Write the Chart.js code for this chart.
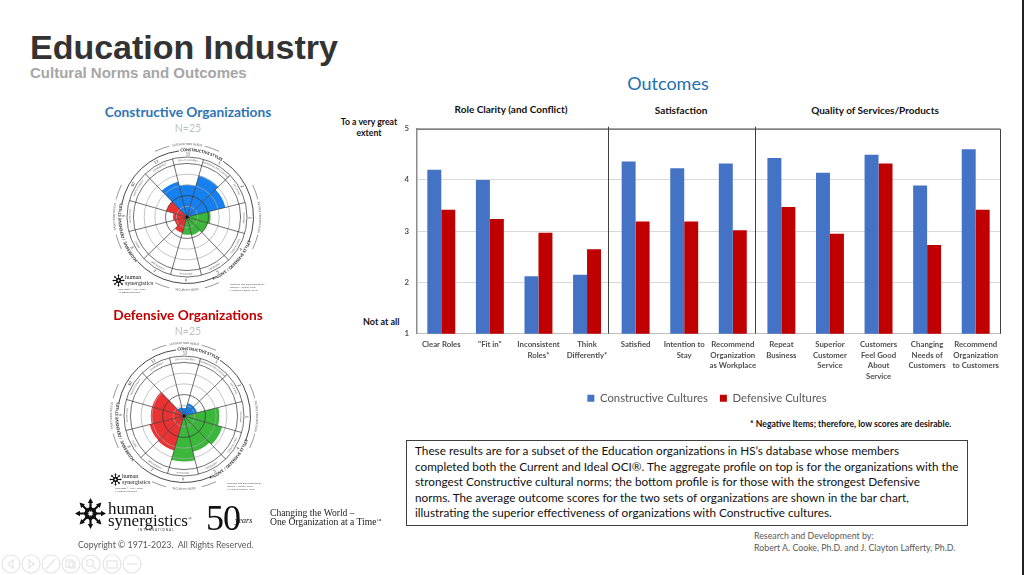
<!DOCTYPE html>
<html lang="en">
<head>
<meta charset="UTF-8">
<title>Education Industry</title>
<script src="https://cdn.jsdelivr.net/npm/chart.js"></script>
<style>
  html, body { margin: 0; padding: 0; background: #fff; }
  #page { position: relative; width: 1024px; height: 575px; overflow: hidden; font-family: Lato, sans-serif; }
  .t { position: absolute; white-space: nowrap; line-height: 1; }
  .c { transform: translateX(-50%); text-align: center; }
  .serif { font-family: "Liberation Serif", serif; }
  canvas { position: absolute; }
  svg { position: absolute; }
</style>
</head>
<body>
<div id="page">
  <div class="t" style="left:30px;top:28px;font:bold 34px 'Liberation Sans';color:#333">Education Industry</div>
  <div class="t" style="left:30px;top:64px;font:bold 15px 'Liberation Sans';color:#a6a6a6">Cultural Norms and Outcomes</div>

  <div class="t c" style="left:668px;top:74px;font-size:18px;color:#1f6fb0">Outcomes</div>
  <div class="t c" style="left:511px;top:104px;font-size:10px;font-weight:700;color:#111">Role Clarity (and Conflict)</div>
  <div class="t c" style="left:681px;top:105px;font-size:10px;font-weight:700;color:#111">Satisfaction</div>
  <div class="t c" style="left:875px;top:105px;font-size:10px;font-weight:700;color:#111">Quality of Services/Products</div>
  <div class="t c" style="left:369px;top:117px;font-size:8.7px;font-weight:700;color:#111;line-height:10.5px">To a very great<br>extent</div>
  <div class="t" style="left:363px;top:317px;font-size:9px;font-weight:700;color:#111">Not at all</div>

  <canvas id="barChart" style="left:400px;top:116px" width="614" height="298"></canvas>

  <div class="t" style="left:750px;top:420px;font-size:8.65px;font-weight:700;color:#111">* Negative Items; therefore, low scores are desirable.</div>

  <div class="t" style="left:406px;top:440px;width:552px;height:79px;border:1px solid #404040;padding:2px 0 3px 8px;font-size:11.75px;line-height:15.5px;color:#111">These results are for a subset of the Education organizations in HS’s database whose members<br>completed both the Current and Ideal OCI®. The aggregate profile on top is for the organizations with the<br>strongest Constructive cultural norms; the bottom profile is for those with the strongest Defensive<br>norms. The average outcome scores for the two sets of organizations are shown in the bar chart,<br>illustrating the superior effectiveness of organizations with Constructive cultures.</div>

  <div class="t" style="left:754px;top:530px;font-size:8.8px;color:#595959;line-height:11.5px">Research and Development by:<br>Robert A. Cooke, Ph.D. and J. Clayton Lafferty, Ph.D.</div>

  <div class="t c" style="left:188px;top:105px;font-size:13.7px;font-weight:700;color:#2e74b5">Constructive Organizations</div>
  <div class="t c" style="left:188px;top:123px;font-size:10.5px;color:#bfbfbf">N=25</div>
  <canvas id="wheelTop" style="left:92px;top:122px" width="190" height="190"></canvas>

  <div class="t c" style="left:188px;top:308px;font-size:13.7px;font-weight:700;color:#c00000">Defensive Organizations</div>
  <div class="t c" style="left:188px;top:326px;font-size:10.5px;color:#bfbfbf">N=25</div>
  <canvas id="wheelBottom" style="left:89px;top:321px" width="190" height="190"></canvas>

  <!-- small logos inside the wheels -->
  <svg style="left:112px;top:274px" width="13" height="13" viewBox="-14 -14 28 28"><use href="#star"/></svg>
  <div class="t serif" style="left:125px;top:275px;font-size:6px;line-height:5.5px;color:#222">human<br>synergistics</div>
  <div class="t" style="left:118px;top:288px;font-size:2.6px;line-height:3px;color:#555">Copyright © 1971-2023<br>All Rights Reserved</div>
  <div class="t" style="left:230px;top:283px;font-size:2.6px;line-height:3px;color:#555">Research and Development by<br>Robert A. Cooke, Ph.D.<br>J. Clayton Lafferty, Ph.D.</div>

  <svg style="left:109px;top:473px" width="13" height="13" viewBox="-14 -14 28 28"><use href="#star"/></svg>
  <div class="t serif" style="left:122px;top:474px;font-size:6px;line-height:5.5px;color:#222">human<br>synergistics</div>
  <div class="t" style="left:115px;top:487px;font-size:2.6px;line-height:3px;color:#555">Copyright © 1971-2023<br>All Rights Reserved</div>
  <div class="t" style="left:227px;top:482px;font-size:2.6px;line-height:3px;color:#555">Research and Development by<br>Robert A. Cooke, Ph.D.<br>J. Clayton Lafferty, Ph.D.</div>

  <!-- footer logo -->
  <svg style="left:75px;top:498px" width="31" height="31" viewBox="-14 -14 28 28">
    <defs>
      <g id="star" fill="#111">
        <g id="arm"><polygon points="0,-14 2.4,-9.5 1,-9.5 1,-6 2.6,-4 0,-1.5 -2.6,-4 -1,-6 -1,-9.5 -2.4,-9.5"/></g>
        <use href="#arm" transform="rotate(45)"/><use href="#arm" transform="rotate(90)"/><use href="#arm" transform="rotate(135)"/>
        <use href="#arm" transform="rotate(180)"/><use href="#arm" transform="rotate(225)"/><use href="#arm" transform="rotate(270)"/><use href="#arm" transform="rotate(315)"/>
      </g>
    </defs>
    <use href="#star"/>
  </svg>
  <div class="t serif" style="left:108px;top:503px;font-size:17px;line-height:12px;color:#111">human<br>synergistics<span style="font-size:5px;line-height:0;vertical-align:6px">®</span></div>
  <div class="t" style="left:138px;top:529px;font-size:3.2px;letter-spacing:.9px;color:#333">INTERNATIONAL</div>
  <div class="t serif" style="left:206px;top:500px;font-size:36px;color:#111;letter-spacing:-1px">50</div>
  <div class="t serif" style="left:235px;top:517px;font-size:8px;font-style:italic;color:#111">years</div>
  <div class="t serif" style="left:270px;top:508px;font-size:9.6px;line-height:9.4px;color:#222">Changing the World –<br>One Organization at a Time<span style="font-size:5px;line-height:0;vertical-align:3px">™</span></div>
  <div class="t" style="left:78px;top:541px;font-size:8.75px;color:#595959">Copyright © 1971-2023.&nbsp; All Rights Reserved.</div>

  <!-- slide show controls -->
  <svg style="left:0;top:553px" width="145" height="22" fill="none" stroke="#e4e4e4" stroke-width="1.2">
    <circle cx="11" cy="11" r="9"/><path d="M13 7l-5 4 5 4z"/>
    <circle cx="31" cy="11" r="9"/><path d="M29 7l5 4-5 4z"/>
    <circle cx="51" cy="11" r="9"/><path d="M46 16l9-10"/>
    <circle cx="71" cy="11" r="9"/><rect x="66" y="7" width="7" height="7"/><rect x="69" y="9" width="6" height="6"/>
    <circle cx="91" cy="11" r="9"/><circle cx="90" cy="10" r="3.5"/><path d="M93 13l3 3"/>
    <circle cx="112" cy="11" r="9"/><rect x="107" y="8" width="10" height="7"/>
    <circle cx="132" cy="11" r="9"/><path d="M127 11h10"/>
  </svg>
  <div style="position:absolute;left:1022px;top:0;width:2px;height:575px;background:#222"></div>
</div>

<script>
// bar chart data
const outcomeLabels = [
  'Clear Roles', '"Fit in"', ['Inconsistent', 'Roles*'], ['Think', 'Differently*'],
  'Satisfied', ['Intention to', 'Stay'], ['Recommend', 'Organization', 'as Workplace'],
  ['Repeat', 'Business'], ['Superior', 'Customer', 'Service'], ['Customers', 'Feel Good', 'About', 'Service'],
  ['Changing', 'Needs of', 'Customers'], ['Recommend', 'Organization', 'to Customers']
];
const constructiveScores = [4.20, 4.00, 2.12, 2.15, 4.36, 4.23, 4.32, 4.43, 4.14, 4.49, 3.89, 4.60];
const defensiveScores = [3.42, 3.24, 2.97, 2.65, 3.19, 3.19, 3.02, 3.47, 2.95, 4.32, 2.73, 3.42];
const groupDividers = [3.44, 6.45];

// wheel data, clockwise from style 11
const styleNumbers = ['11', '12', '1', '2', '3', '4', '5', '6', '7', '8', '9', '10'];
const styleNames = ['ACHIEVEMENT', 'SELF-ACTUALIZING', 'HUMANISTIC-ENCOURAGING', 'AFFILIATIVE', 'APPROVAL', 'CONVENTIONAL',
  'DEPENDENT', 'AVOIDANCE', 'OPPOSITIONAL', 'POWER', 'COMPETITIVE', 'PERFECTIONISTIC'];
const constructiveWheel = [68, 60, 81, 74, 44, 40, 35, 33, 31, 24, 26, 40];
const defensiveWheel = [17, 15, 25, 25, 66, 74, 69, 85, 67, 66, 62, 62];
const wheelColors = ['#1580ee', '#1580ee', '#1580ee', '#1580ee', '#3bb83b', '#3bb83b', '#3bb83b', '#3bb83b', '#ea3232', '#ea3232', '#ea3232', '#ea3232'];

Chart.defaults.font.family = 'Lato, sans-serif';

const frameAndDividers = {
  id: 'frameAndDividers',
  afterDraw(chart) {
    const { ctx, chartArea: a, scales: { x } } = chart;
    ctx.save();
    ctx.strokeStyle = '#404040';
    ctx.lineWidth = 1;
    ctx.beginPath();
    ctx.moveTo(a.left, a.top + 0.5);
    ctx.lineTo(a.right + 0.5, a.top + 0.5);
    ctx.lineTo(a.right + 0.5, a.bottom);
    groupDividers.forEach(d => {
      const px = Math.round(x.getPixelForValue(d)) + 0.5;
      ctx.moveTo(px, a.top - 2);
      ctx.lineTo(px, a.bottom);
    });
    ctx.stroke();
    ctx.restore();
  }
};

new Chart(document.getElementById('barChart'), {
  type: 'bar',
  data: {
    labels: outcomeLabels,
    datasets: [
      { label: 'Constructive Cultures', data: constructiveScores, backgroundColor: '#4472c4' },
      { label: 'Defensive Cultures', data: defensiveScores, backgroundColor: '#c00000' }
    ]
  },
  options: {
    responsive: false,
    animation: false,
    layout: { padding: { top: 4, right: 0, bottom: 0, left: 0 } },
    datasets: { bar: { categoryPercentage: 0.575, barPercentage: 1 } },
    plugins: {
      tooltip: { enabled: false },
      legend: {
        position: 'bottom',
        labels: { boxWidth: 7, boxHeight: 7, color: '#595959', font: { size: 11.3 }, padding: 12 }
      }
    },
    scales: {
      x: {
        grid: { display: false },
        border: { color: '#bfbfbf' },
        ticks: { color: '#505050', font: { size: 7.8, weight: 'bold', lineHeight: 1.33 }, maxRotation: 0, autoSkip: false, padding: -2 },
        afterFit(s) { s.height = 47; }
      },
      y: {
        min: 1, max: 5,
        grid: { color: '#d9d9d9', drawTicks: false },
        border: { color: '#8c8c8c', width: 1.5 },
        ticks: { stepSize: 1, color: '#505050', font: { size: 7.8, weight: 'bold' }, padding: 8 },
        afterFit(s) { s.width = 17; }
      },
      // empty axis that only keeps the legend centred on the plot
      spacer: {
        position: 'right',
        grid: { display: false },
        border: { display: false },
        ticks: { display: false },
        afterFit(s) { s.width = 14; }
      }
    }
  },
  plugins: [frameAndDividers]
});

// curved text centred on an angle, clockwise from the top
function arcText(ctx, str, radius, midDeg, font, color, flip) {
  ctx.save();
  ctx.font = font;
  ctx.fillStyle = color;
  ctx.textAlign = 'center';
  ctx.textBaseline = 'middle';
  const total = ctx.measureText(str).width / radius;
  const dir = flip ? -1 : 1;
  let a = midDeg * Math.PI / 180 - dir * total / 2;
  for (const ch of str) {
    const w = ctx.measureText(ch).width / radius;
    a += dir * w / 2;
    ctx.save();
    ctx.rotate(a);
    ctx.translate(0, -radius);
    if (flip) ctx.rotate(Math.PI);
    ctx.fillText(ch, 0, 0);
    ctx.restore();
    a += dir * w / 2;
  }
  ctx.restore();
}

function arcLine(ctx, r, fromDeg, toDeg, width, color) {
  ctx.beginPath();
  ctx.lineWidth = width;
  ctx.strokeStyle = color;
  ctx.arc(0, 0, r, (fromDeg - 90) * Math.PI / 180, (toDeg - 90) * Math.PI / 180);
  ctx.stroke();
}

const wheelFrame = {
  id: 'wheelFrame',
  afterDraw(chart) {
    const { ctx, scales: { r } } = chart;
    const R = r.drawingArea;
    ctx.save();
    ctx.translate(r.xCenter, r.yCenter);
    // hub
    ctx.fillStyle = '#111';
    ctx.beginPath();
    ctx.arc(0, 0, 1.5, 0, Math.PI * 2);
    ctx.fill();
    // style names and numbers
    styleNames.forEach((name, i) => {
      const mid = -29 + i * 30;
      const bottom = mid > 90 && mid < 270;
      arcText(ctx, name, R - 3, mid, '2.2px Lato', '#555', bottom);
      arcText(ctx, styleNumbers[i], R + 3, mid, '4px Lato', '#333', bottom);
    });
    // style group rings, broken around the group names
    arcLine(ctx, R + 6.5, 33, 112, 0.9, '#333');
    arcLine(ctx, R + 6.5, 156, 228, 0.9, '#333');
    arcLine(ctx, R + 6.5, 281, 353, 0.9, '#333');
    arcText(ctx, 'CONSTRUCTIVE STYLES', R + 7, 13, 'bold 3.9px Lato', '#111', false);
    arcText(ctx, 'PASSIVE / DEFENSIVE STYLES', R + 7, 134, 'bold 3.9px Lato', '#111', true);
    arcText(ctx, 'AGGRESSIVE / DEFENSIVE STYLES', R + 7, 255, 'bold 3.9px Lato', '#111', false);
    // outer needs and orientation arcs
    [0, 90, 180, 270].forEach(mid => {
      arcLine(ctx, R + 13, mid - 26, mid - 14, 0.6, '#555');
      arcLine(ctx, R + 13, mid + 14, mid + 26, 0.6, '#555');
    });
    arcText(ctx, 'SATISFACTION NEEDS', R + 13, 0, '2.9px Lato', '#555', false);
    arcText(ctx, 'PEOPLE ORIENTATION', R + 13, 90, '2.9px Lato', '#555', false);
    arcText(ctx, 'SECURITY NEEDS', R + 13, 180, '2.9px Lato', '#555', true);
    arcText(ctx, 'TASK ORIENTATION', R + 13, 270, '2.9px Lato', '#555', false);
    ctx.restore();
  }
};

function makeWheel(id, values) {
  new Chart(document.getElementById(id), {
    type: 'polarArea',
    data: {
      labels: styleNumbers,
      datasets: [{ data: values, backgroundColor: wheelColors, borderWidth: 0 }]
    },
    options: {
      responsive: false,
      animation: false,
      layout: { padding: 35 },
      plugins: { legend: { display: false }, tooltip: { enabled: false } },
      scales: {
        r: {
          min: 0, max: 112,
          startAngle: -44,
          ticks: { display: false, stepSize: 20 },
          angleLines: { display: true, color: '#333', lineWidth: 0.7 },
          grid: {
            z: 1,
            lineWidth: 0.7,
            color: c => (c.tick.value === 100 || c.tick.value === 112 || c.tick.value === 40) ? '#333' : '#aaaaaa'
          }
        }
      }
    },
    plugins: [wheelFrame]
  });
}

makeWheel('wheelTop', constructiveWheel);
makeWheel('wheelBottom', defensiveWheel);
</script>
</body>
</html>
